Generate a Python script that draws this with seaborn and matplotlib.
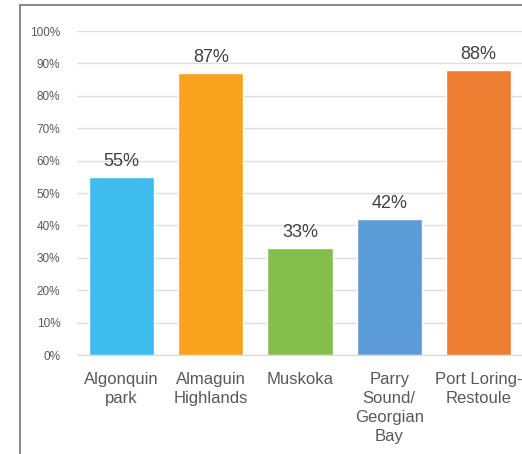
import matplotlib
matplotlib.use("Agg")
import matplotlib.pyplot as plt
import seaborn as sns
import pandas as pd
from matplotlib.lines import Line2D
from matplotlib.ticker import PercentFormatter

# data
regions = ["Algonquin\npark", "Almaguin\nHighlands", "Muskoka",
           "Parry\nSound/\nGeorgian\nBay", "Port Loring-\nRestoule"]
shares = [0.55, 0.87, 0.33, 0.42, 0.88]
colors = ["#3DBDEE", "#F8A31B", "#85BF4B", "#5B9BD6", "#ED7D31"]

df = pd.DataFrame({"region": regions, "share": shares})

sns.set_style("white")
plt.rcParams["font.family"] = ["Liberation Sans", "DejaVu Sans"]

fig = plt.figure(figsize=(5.22, 4.54), dpi=100)
ax = fig.add_axes([77 / 522, 99 / 454, 446 / 522, 324 / 454])

sns.barplot(data=df, x="region", y="share", hue="region", palette=colors,
            width=0.73, legend=False, saturation=1, ax=ax)

ax.set_ylim(0, 1)
ax.set_yticks([i / 10 for i in range(11)])
ax.yaxis.set_major_formatter(PercentFormatter(1.0, decimals=0))
ax.grid(axis="y", color="#DEDEDE", linewidth=1)
ax.set_axisbelow(True)
ax.set_xlabel("")
ax.set_ylabel("")
for s in ["top", "right", "left"]:
    ax.spines[s].set_visible(False)
ax.spines["bottom"].set_color("#D9D9D9")
ax.tick_params(axis="y", length=0, labelsize=8.5, labelcolor="#595959", pad=12)
ax.tick_params(axis="x", length=0, labelsize=12, labelcolor="#595959", pad=12)
for lab in ax.get_xticklabels():
    lab.set_linespacing(1.35)
    lab.set_verticalalignment("top")

for i, v in enumerate(shares):
    ax.annotate(f"{round(v * 100)}%", (i, v), xytext=(0, 5),
                textcoords="offset points", ha="center", va="bottom",
                fontsize=13, color="#404040")

# outer frame (left and top edges visible in the crop)
fig.add_artist(Line2D([20 / 522, 20 / 522], [0, 1 - 5 / 454],
                      transform=fig.transFigure, color="#7F7F7F", lw=1.3))
fig.add_artist(Line2D([20 / 522, 1], [1 - 5 / 454, 1 - 5 / 454],
                      transform=fig.transFigure, color="#7F7F7F", lw=1.3))

fig.savefig("out.png", dpi=100)
